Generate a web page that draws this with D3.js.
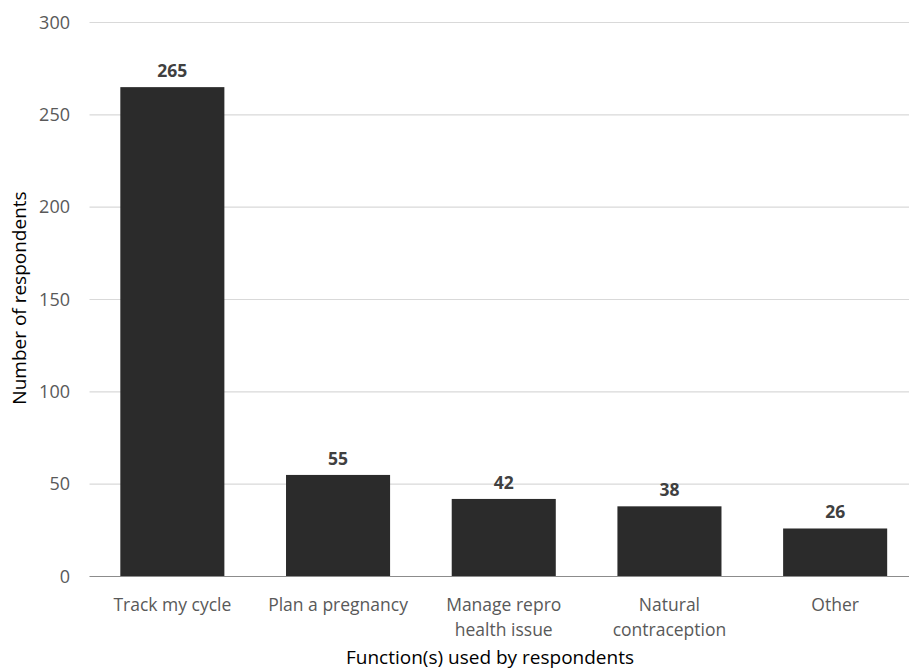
<!DOCTYPE html>
<html>
<head>
<meta charset="utf-8">
<script src="https://cdn.jsdelivr.net/npm/d3@7"></script>
<style>
  body { margin: 0; background: #fff; }
  svg { display: block; font-family: "Open Sans", "Noto Sans", sans-serif; }
</style>
</head>
<body>
<svg id="chart" width="909" height="671"></svg>
<script>
const categories = [
  ['Track my cycle'],
  ['Plan a pregnancy'],
  ['Manage repro', 'health issue'],
  ['Natural', 'contraception'],
  ['Other']
];
const counts = [265, 55, 42, 38, 26];
const yTicks = [0, 50, 100, 150, 200, 250, 300];

const svg = d3.select('#chart');
const plotLeft = 89.5, plotRight = 918, plotTop = 22.5, plotBottom = 576.5;

const x = d3.scaleBand()
  .domain(categories.map((c, i) => i))
  .range([plotLeft, plotRight])
  .paddingInner(0.372)
  .paddingOuter(0.186);

const y = d3.scaleLinear().domain([0, 300]).range([plotBottom, plotTop]);

// gridlines
svg.append('g').selectAll('line')
  .data(yTicks.filter(t => t > 0))
  .join('line')
  .attr('x1', plotLeft).attr('x2', plotRight)
  .attr('y1', d => y(d)).attr('y2', d => y(d))
  .attr('stroke', '#d9d9d9').attr('stroke-width', 1.2);

// y tick labels
svg.append('g').selectAll('text')
  .data(yTicks)
  .join('text')
  .attr('x', 70).attr('y', d => y(d))
  .attr('dy', '0.35em')
  .attr('text-anchor', 'end')
  .attr('font-size', '18px')
  .attr('fill', '#595959')
  .text(d => d);

// bars
svg.append('g').selectAll('rect')
  .data(counts)
  .join('rect')
  .attr('x', (d, i) => x(i))
  .attr('width', x.bandwidth())
  .attr('y', d => y(d))
  .attr('height', d => y(0) - y(d))
  .attr('fill', '#2b2b2b');

// baseline
svg.append('line')
  .attr('x1', plotLeft).attr('x2', plotRight)
  .attr('y1', y(0)).attr('y2', y(0))
  .attr('stroke', '#8c8c8c').attr('stroke-width', 1.2);

// data labels
svg.append('g').selectAll('text')
  .data(counts)
  .join('text')
  .attr('x', (d, i) => x(i) + x.bandwidth() / 2)
  .attr('y', d => y(d) - 10)
  .attr('text-anchor', 'middle')
  .attr('font-size', '17.5px')
  .attr('font-weight', 'bold')
  .attr('fill', '#404040')
  .text(d => d);

// category labels
const cat = svg.append('g').selectAll('text')
  .data(categories)
  .join('text')
  .attr('x', (d, i) => x(i) + x.bandwidth() / 2)
  .attr('y', 611)
  .attr('text-anchor', 'middle')
  .attr('font-size', '17.5px')
  .attr('fill', '#595959');
cat.selectAll('tspan')
  .data(d => d)
  .join('tspan')
  .attr('x', function() { return d3.select(this.parentNode).attr('x'); })
  .attr('dy', (d, i) => i === 0 ? 0 : 25)
  .text(d => d);

// axis titles
svg.append('text')
  .attr('x', 490).attr('y', 664)
  .attr('text-anchor', 'middle')
  .attr('font-size', '19px')
  .attr('fill', '#000')
  .text('Function(s) used by respondents');

svg.append('text')
  .attr('transform', 'translate(26,298) rotate(-90)')
  .attr('text-anchor', 'middle')
  .attr('font-size', '19px')
  .attr('fill', '#000')
  .text('Number of respondents');
</script>
</body>
</html>
